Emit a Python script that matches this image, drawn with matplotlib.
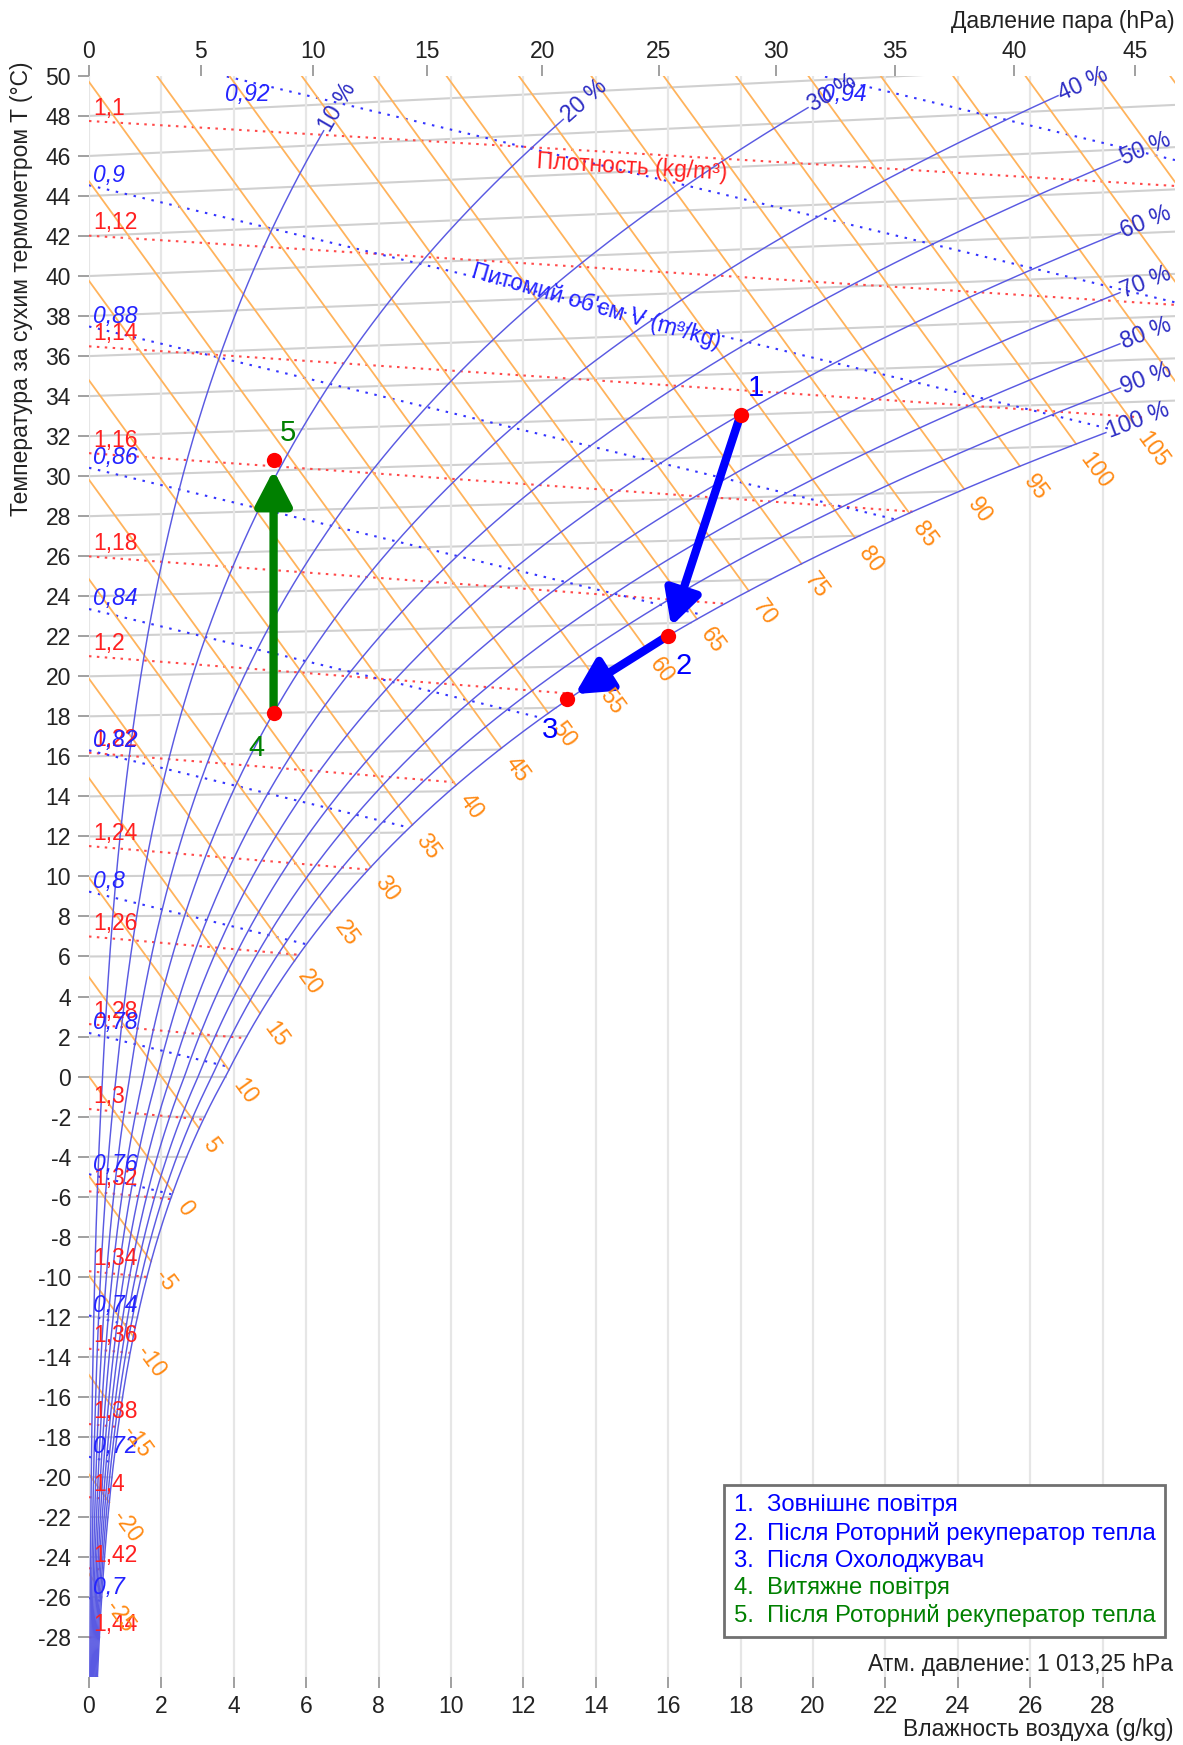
import numpy as np
import matplotlib

matplotlib.use("Agg")
import matplotlib.pyplot as plt

plt.rcParams["font.family"] = ["Liberation Sans", "DejaVu Sans"]
plt.rcParams["axes.unicode_minus"] = False

P_ATM = 1013.25          # hPa
R_AIR = 287.05           # J/(kg K)

# ---- chart levels ----
RH_LEVELS = [10, 20, 30, 40, 50, 60, 70, 80, 90, 100]
ENTHALPY_LEVELS = [-25, -20, -15, -10, -5, 0, 5, 10, 15, 20, 25, 30, 35, 40, 45, 50,
                   55, 60, 65, 70, 75, 80, 85, 90, 95, 100, 105, 110, 115, 120, 125]
DENSITY_LEVELS = [1.10, 1.12, 1.14, 1.16, 1.18, 1.20, 1.22, 1.24, 1.26,
                  1.28, 1.30, 1.32, 1.34, 1.36, 1.38, 1.40, 1.42, 1.44]
VOLUME_LEVELS = [0.70, 0.72, 0.74, 0.76, 0.78, 0.80, 0.82, 0.84, 0.86,
                 0.88, 0.90, 0.92, 0.94]
ISOTHERMS = [-30, -28, -26, -24, -22, -20, -18, -16, -14, -12, -10, -8, -6, -4, -2, 0,
             2, 4, 6, 8, 10, 12, 14, 16, 18, 20, 22, 24, 26, 28, 30, 32, 34, 36, 38,
             40, 42, 44, 46, 48]
X_TICKS = [0, 2, 4, 6, 8, 10, 12, 14, 16, 18, 20, 22, 24, 26, 28]
T_TICKS = [-28, -26, -24, -22, -20, -18, -16, -14, -12, -10, -8, -6, -4, -2, 0, 2, 4,
           6, 8, 10, 12, 14, 16, 18, 20, 22, 24, 26, 28, 30, 32, 34, 36, 38, 40, 42,
           44, 46, 48, 50]
VAPOUR_TICKS = [0, 5, 10, 15, 20, 25, 30, 35, 40, 45]

# ---- process states: humidity (g/kg), dry-bulb temperature (C) ----
POINT_IDS = [1, 2, 3, 4, 5]
POINT_X = [18.0, 16.0, 13.2, 5.1, 5.1]
POINT_T = [32.0, 21.4, 18.4, 18.0, 30.5]
POINT_NAMES = ["Зовнішнє повітря",
               "Після Роторний рекуператор тепла",
               "Після Охолоджувач",
               "Витяжне повітря",
               "Після Роторний рекуператор тепла"]
PROCESS_STEPS = [(1, 2), (2, 3), (4, 5)]

POINT_COLORS = ["#0000ff", "#0000ff", "#0000ff", "#008000", "#008000"]
LABEL_OFFSETS = [(11, 19), (11, -22), (-12, -22), (-12, -25), (10, 20)]

# where the humidity curves stop so that their labels stay inside the frame
RH_T_END = 46.7
RH_X_END = {100: 28.1}
RH_X_END_DEFAULT = 28.5


def p_sat(t):
    t = np.asarray(t, dtype=float)
    water = 6.112 * np.exp(17.62 * t / (243.12 + t))
    ice = 6.112 * np.exp(22.46 * t / (272.62 + t))
    return np.where(t >= 0, water, ice)


def hum_ratio(t, phi):
    pw = phi * p_sat(t)
    return 622.0 * pw / (P_ATM - pw)


def mollier_y(t, x):
    # skewed ordinate of the h-x chart (0 C isotherm horizontal)
    return t * (1.0 + 1.86 * np.asarray(x) / 1000.0 / 1.006)


fig = plt.figure(figsize=(11.83, 17.45), dpi=100)
ax = fig.add_axes([0.0752, 0.0390, 0.9180, 0.9175])
ax.set_xlim(0, 30)
ax.set_ylim(-30, 50)
for s in ax.spines.values():
    s.set_visible(False)

ax.set_xticks(X_TICKS)
ax.set_yticks(T_TICKS)
ax.tick_params(axis="both", colors="#999999", labelcolor="#222222", labelsize=16.5,
               length=8, width=1.3, pad=5)
ax.grid(axis="x", color="#e6e6e6", lw=1.6, zorder=0)

sec = ax.secondary_xaxis("top", functions=(lambda x: x * P_ATM / (622.0 + x),
                                           lambda p: 622.0 * p / (P_ATM - p)))
sec.set_xticks(VAPOUR_TICKS)
sec.tick_params(colors="#999999", labelcolor="#222222", labelsize=16.5,
                length=8, width=1.3, pad=1)
sec.spines["top"].set_visible(False)

# saturation table
t_tab = np.linspace(-40, 60, 10001)
x_tab = hum_ratio(t_tab, 1.0)
h_tab = 1.006 * t_tab + x_tab / 1000.0 * (2501 + 1.86 * t_tab)

# isotherms
for t in ISOTHERMS:
    x_end = min(float(hum_ratio(t, 1.0)), 30.0)
    xs = np.array([0.0, x_end])
    ax.plot(xs, mollier_y(t, xs), color="#d0d0d0", lw=1.5, zorder=1)

xg = np.linspace(0, 30, 1201)
xk = xg / 1000.0

# density lines
for rho in DENSITY_LEVELS:
    tk = P_ATM * 100 * (1 + xk) / (R_AIR * rho * (1 + 1.608 * xk))
    t = tk - 273.15
    m = xg <= hum_ratio(t, 1.0)
    ax.plot(xg[m], mollier_y(t[m], xg[m]), color="#ff4a4a", lw=1.5,
            ls=(0, (1.2, 2.6)), zorder=2)
    t0 = t[0]
    if -30 <= t0 <= 50:
        ax.annotate(f"{rho:g}".replace(".", ","), xy=(0, t0), xytext=(3, 1),
                    textcoords="offset points", ha="left", va="bottom",
                    color="#ff2020", fontsize=16.5, zorder=7)

# specific volume lines
for v in VOLUME_LEVELS:
    tk = v * P_ATM * 100 / (R_AIR * (1 + 1.608 * xk))
    t = tk - 273.15
    yv = mollier_y(t, xg)
    m = (xg <= hum_ratio(t, 1.0)) & (yv <= 50.5)
    ax.plot(xg[m], yv[m], color="#3434ff", lw=1.5, ls=(0, (1.2, 3.2)), zorder=2)
    lab = f"{v:g}".replace(".", ",")
    if yv[0] <= 50:
        ax.annotate(lab, xy=(0, yv[0]), xytext=(3, -1), textcoords="offset points",
                    ha="left", va="bottom", color="#2424ff", fontsize=16.5,
                    style="italic", zorder=7)
    else:
        i = int(np.argmax(yv <= 50))
        ax.annotate(lab, xy=(xg[i], 50), xytext=(0, -5), textcoords="offset points",
                    ha="left", va="top", color="#2424ff", fontsize=16.5,
                    style="italic", zorder=7)

fig.canvas.draw()


def screen_angle(x0, y0, x1, y1):
    a = ax.transData.transform([(x0, y0), (x1, y1)])
    d = a[1] - a[0]
    d = d / np.hypot(*d)
    return np.degrees(np.arctan2(d[1], d[0])), d


# enthalpy lines
for h in ENTHALPY_LEVELS:
    x_sat_h = float(np.interp(h, h_tab, x_tab))
    x_start = max(0.0, (h - 1.006 * 50) / 2.501)
    x_end = min(x_sat_h, 30.0)
    if x_end <= x_start:
        continue
    xs = np.linspace(x_start, x_end, 50)
    ys = (h - 2.501 * xs) / 1.006
    ax.plot(xs, ys, color="#ffb35c", lw=1.3, zorder=3)
    if x_sat_h <= 30.0 and ys[-1] > -30:
        ang, d = screen_angle(xs[0], ys[0], xs[-1], ys[-1])
        ax.annotate(str(h), xy=(xs[-1], ys[-1]), xytext=(d[0] * 10, d[1] * 10),
                    textcoords="offset points", rotation=ang, rotation_mode="anchor",
                    ha="left", va="center", color="#ff8a14", fontsize=16.5, zorder=7)

# relative humidity curves
t_rh = np.linspace(-30, RH_T_END, 3000)
for rh in RH_LEVELS:
    xr = hum_ratio(t_rh, rh / 100.0)
    yr = mollier_y(t_rh, xr)
    m = xr <= RH_X_END.get(rh, RH_X_END_DEFAULT)
    xr, yr = xr[m], yr[m]
    ax.plot(xr, yr, color="#5a5ae2", lw=1.05, zorder=4)
    ang, d = screen_angle(xr[-8], yr[-8], xr[-1], yr[-1])
    ax.annotate(f"{rh} %", xy=(xr[-1], yr[-1]), xytext=(d[0] * 1, d[1] * 1),
                textcoords="offset points", rotation=ang, rotation_mode="anchor",
                ha="left", va="center", color="#2c2cc4", fontsize=16.5, zorder=7)

ax.text(15.0, 45.45, "Плотность (kg/m³)", color="#ff2020", fontsize=16.5,
        rotation=-3.5, ha="center", va="center", zorder=7)
ax.text(14.0, 38.5, "Питомий об'єм V (m³/kg)", color="#2424ff", fontsize=16.5,
        rotation=-16, ha="center", va="center", zorder=7)

# process lines
px = dict(zip(POINT_IDS, POINT_X))
py = dict(zip(POINT_IDS, [float(mollier_y(t, x)) for t, x in zip(POINT_T, POINT_X)]))
pc = dict(zip(POINT_IDS, POINT_COLORS))
for a, b in PROCESS_STEPS:
    ax.annotate("", xy=(px[b], py[b]), xytext=(px[a], py[a]),
                arrowprops=dict(arrowstyle="-|>,head_length=1.05,head_width=0.55",
                                lw=6, color=pc[a], mutation_scale=20,
                                shrinkA=0, shrinkB=7), zorder=5)

ax.plot(list(px.values()), list(py.values()), "o", ms=11, color="#ff0000",
        mec="none", zorder=6)
for pid, off in zip(POINT_IDS, LABEL_OFFSETS):
    ax.annotate(str(pid), xy=(px[pid], py[pid]), xytext=off, textcoords="offset points",
                ha="center", va="center", color=pc[pid], fontsize=21, zorder=7)

handles = [plt.Line2D([], [], lw=0) for _ in POINT_IDS]
labels = [f"{i}.  {n}" for i, n in zip(POINT_IDS, POINT_NAMES)]
leg = ax.legend(handles, labels, loc="lower right", bbox_to_anchor=(0.9908, 0.025),
                borderaxespad=0, handlelength=0, handletextpad=0, fontsize=17.2,
                labelspacing=0.22, borderpad=0.4, fancybox=False,
                edgecolor="#707070", framealpha=1)
leg.get_frame().set_linewidth(2)
leg.set_zorder(8)
for txt, c in zip(leg.get_texts(), POINT_COLORS):
    txt.set_color(c)

ax.text(0.998, 0.0075, "Атм. давление: 1 013,25 hPa", transform=ax.transAxes,
        ha="right", va="center", fontsize=16.5, color="#222222", zorder=8)
fig.text(0.9916, 0.0086, "Влажность воздуха (g/kg)", ha="right", va="center",
         fontsize=16.5, color="#222222")
fig.text(0.9932, 0.9874, "Давление пара (hPa)", ha="right", va="center",
         fontsize=16.5, color="#222222")
fig.text(0.0185, 1 - 61 / 1745, "Температура за сухим термометром T (°C)",
         rotation=90, ha="center", va="top", fontsize=16.5, color="#222222")

fig.savefig("out.png", dpi=100)
